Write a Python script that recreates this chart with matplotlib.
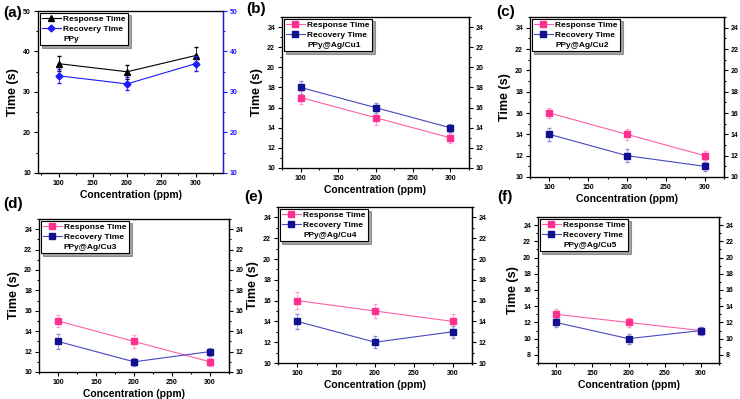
import matplotlib.pyplot as plt
from matplotlib.lines import Line2D
from matplotlib.ticker import MultipleLocator

plt.rcParams["font.family"] = ["Liberation Sans", "DejaVu Sans"]
plt.rcParams["font.weight"] = "bold"

conc = [100, 200, 300]

# (a) PPy
resp_a = [37, 35, 39]
resp_a_err = [1.8, 1.7, 2.0]
rec_a = [34, 32, 37]
rec_a_err = [1.7, 1.6, 1.8]

# (b)-(f) PPy@Ag/Cu samples
samples = ["PPy@Ag/Cu1", "PPy@Ag/Cu2", "PPy@Ag/Cu3", "PPy@Ag/Cu4", "PPy@Ag/Cu5"]
resp = [[17, 15, 13], [16, 14, 12], [15, 13, 11], [16, 15, 14], [13, 12, 11]]
resp_err = [[0.6, 0.7, 0.5], [0.5, 0.5, 0.4], [0.6, 0.6, 0.4],
            [0.8, 0.7, 0.7], [0.6, 0.6, 0.4]]
rec = [[18, 16, 14], [14, 12, 11], [13, 11, 12], [14, 12, 13], [12, 10, 11]]
rec_err = [[0.6, 0.5, 0.4], [0.6, 0.6, 0.4], [0.7, 0.4, 0.4],
           [0.7, 0.6, 0.6], [0.5, 0.6, 0.5]]
ylims = [(10, 25), (10, 25), (10, 25), (10, 25), (7, 25)]
panel_tags = ["(b)", "(c)", "(d)", "(e)", "(f)"]

W, H = 740, 399
# axes boxes in pixels: left, top, right, bottom
boxes = [(38, 11, 223, 173), (282, 17, 469, 168), (530, 17, 724, 177),
         (39, 219, 229, 372), (278, 207, 472, 363), (538, 217, 719, 363)]
tag_pos = [(3, 13), (246, 9), (496, 12), (3, 204), (244, 197), (497, 197)]

PINK = "#ff2f8f"
PINK_LINE = "#ff5fa8"
PINK_ERR = "#ff9fcc"
NAVY = "#101090"
NAVY_LINE = "#4848c0"
NAVY_ERR = "#9090d0"

fig = plt.figure(figsize=(W / 100, H / 100), dpi=100)


def make_ax(box):
    l, t, r, b = box
    return fig.add_axes([l / W, 1 - b / H, (r - l) / W, (b - t) / H])


def style_ax(ax, ymin, ymax, yminor, xlim=(75, 325), right_color="black"):
    ax.set_xlim(*xlim)
    ax.set_ylim(ymin, ymax)
    ax.xaxis.set_major_locator(MultipleLocator(50))
    ax.xaxis.set_minor_locator(MultipleLocator(25))
    ax.yaxis.set_minor_locator(MultipleLocator(yminor))
    ax.tick_params(which="both", direction="out", labelsize=5, width=0.8,
                   pad=2)
    ax.tick_params(which="major", length=3)
    ax.tick_params(which="minor", length=1.5)
    ax.set_xlabel("Concentration (ppm)", fontsize=7.5, fontweight="bold",
                  labelpad=2)
    ax.set_ylabel("Time (s)", fontsize=9, fontweight="bold", labelpad=3)
    for s in ax.spines.values():
        s.set_linewidth(0.9)
    ax2 = ax.twinx()
    ax2.set_ylim(ymin, ymax)
    ax2.yaxis.set_major_locator(ax.yaxis.get_major_locator())
    ax2.yaxis.set_minor_locator(MultipleLocator(yminor))
    ax2.tick_params(which="both", direction="out", labelsize=5, width=0.8,
                    colors=right_color, pad=2)
    ax2.tick_params(which="major", length=3)
    ax2.tick_params(which="minor", length=1.5)
    ax2.spines["right"].set_color(right_color)
    ax2.spines["right"].set_linewidth(0.9)
    return ax2


def add_legend(ax, handles, labels):
    leg = ax.legend(handles, labels, loc="upper left",
                    frameon=True, fancybox=False, shadow=True,
                    edgecolor="black", framealpha=1, borderpad=0.3,
                    handlelength=2.2, handletextpad=0.3, labelspacing=0.25,
                    borderaxespad=0.2, prop={"weight": "bold", "size": 6})
    leg.get_frame().set_linewidth(0.8)


# panel (a)
ax = make_ax(boxes[0])
ax.yaxis.set_major_locator(MultipleLocator(10))
ax2 = style_ax(ax, 10, 50, 5, xlim=(70, 340), right_color="#1a1aff")
ax.errorbar(conc, resp_a, yerr=resp_a_err, color="black", marker="^",
            markersize=4, linewidth=0.8, capsize=1.5, elinewidth=0.6)
ax2.errorbar(conc, rec_a, yerr=rec_a_err, color="#1a1aff", marker="D",
             markersize=3.5, linewidth=0.8, capsize=1.5, elinewidth=0.6)
h = [Line2D([], [], color="black", marker="^", markersize=4, lw=0.8),
     Line2D([], [], color="#1a1aff", marker="D", markersize=3.5, lw=0.8),
     Line2D([], [], linestyle="none")]
ax2.set_zorder(ax.get_zorder() + 1)
add_legend(ax2, h, ["Response Time", "Recovery Time", "PPy"])
fig.text(tag_pos[0][0] / W, 1 - tag_pos[0][1] / H, "(a)", fontsize=11,
         fontweight="bold", va="center")

# panels (b)-(f)
for i in range(5):
    ax = make_ax(boxes[i + 1])
    ax.yaxis.set_major_locator(MultipleLocator(2))
    ax2 = style_ax(ax, ylims[i][0], ylims[i][1], 1)
    ax.errorbar(conc, resp[i], yerr=resp_err[i], color=PINK_LINE,
                ecolor=PINK_ERR, marker="s", markersize=4,
                markerfacecolor=PINK, markeredgecolor=PINK, linewidth=0.8,
                capsize=1.5, elinewidth=0.6)
    ax.errorbar(conc, rec[i], yerr=rec_err[i], color=NAVY_LINE,
                ecolor=NAVY_ERR, marker="s", markersize=4,
                markerfacecolor=NAVY, markeredgecolor=NAVY, linewidth=0.8,
                capsize=1.5, elinewidth=0.6)
    h = [Line2D([], [], color=PINK_LINE, marker="s", markersize=4,
                markerfacecolor=PINK, markeredgecolor=PINK, lw=0.8),
         Line2D([], [], color=NAVY_LINE, marker="s", markersize=4,
                markerfacecolor=NAVY, markeredgecolor=NAVY, lw=0.8),
         Line2D([], [], linestyle="none")]
    add_legend(ax, h, ["Response Time", "Recovery Time", samples[i]])
    x, y = tag_pos[i + 1]
    fig.text(x / W, 1 - y / H, panel_tags[i], fontsize=11,
             fontweight="bold", va="center")

fig.savefig("out.png", dpi=100)
